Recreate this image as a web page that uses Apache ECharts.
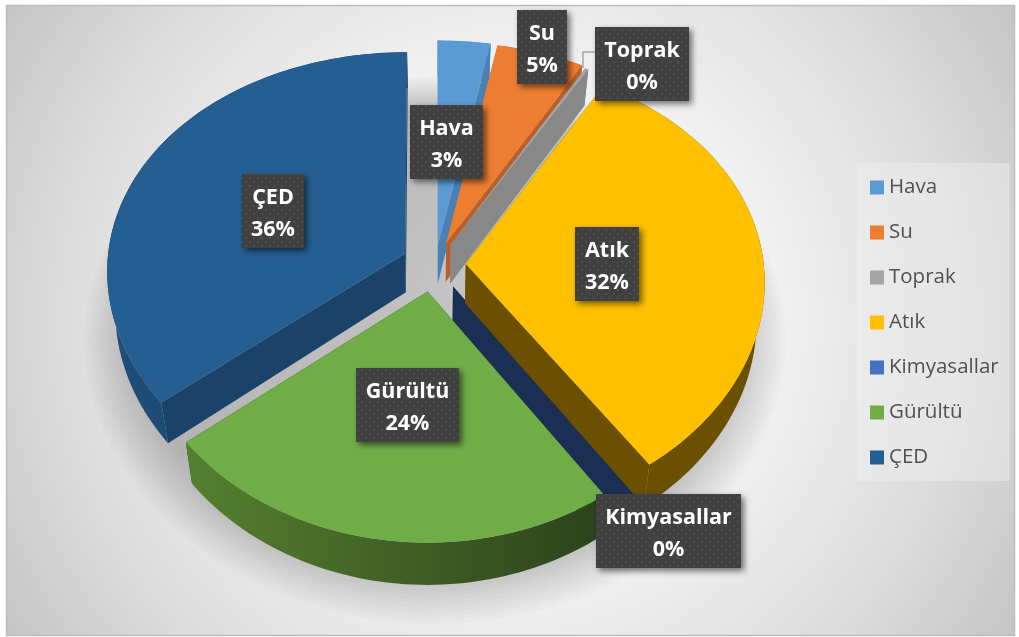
<!DOCTYPE html>
<html><head><meta charset="utf-8">
<style>html,body{margin:0;padding:0;background:#fff}#c{width:1019px;height:637px}</style>
<script src="https://cdn.jsdelivr.net/npm/echarts@6/dist/echarts.min.js"></script>
</head><body><div id="c"></div>
<script>
// Data
const categories = ['Hava','Su','Toprak','Atık','Kimyasallar','Gürültü','ÇED'];
const values = [3.0,5.1,0.2,32.0,0.2,23.7,35.8];

// Styles
const topColors = ['#5B9BD5','#ED7D31','#A5A5A5','#FFC000','#4472C4','#70AD47','#255E91'];
const wallColors = ['#4A80B4','#B9602A','#888888','#6A5000','#1B2E54','#2C441C','#1B4369'];
const outerStart = ['#4A80B4','#B9602A','#888888','#6A5000','#1B2E54','#55802F','#1F4E7A'];
const outerEnd = ['#4A80B4','#B9602A','#888888','#6A5000','#1B2E54','#2B431B','#1A4066'];
const drawOrder = [0,1,2,4,3,5,6];
// Layout only: per-slice fine offsets [dx,dy,radial scale] and label boxes [left, top, width, height]
const sliceTweak = [[0,3,1.03],[1,0,1.01],[1,0,1],[1,1,1],[1,4,1],[-3,5,0.985],[-3,-1,1]];
const labelBoxes = [[410,105,73,74],[517,10,50,74],[595,27,94,74],[575,227,64,74],[596,494,145,74],[356,368,103,74],[242,174,62,74]];

// Projection of the tilted pie plane
const G = {cx:435, cy:264, a:298, b:224, ky:0.104, kx:0.075, shrink:0.025, explode:0.1};
function proj(X,Y,dz,d){
  const dep = d===undefined ? 39+3*Y : d;
  const s = 1/(1-G.ky*Y), sx = 1/(1-G.kx*Y);
  const f = dz ? 1-G.shrink : 1;
  return [G.cx+G.a*X*sx*f, G.cy+G.b*Y*s+dep*dz];
}
const total = values.reduce((p,c)=>p+c,0);
const spans = []; let acc=0;
values.forEach(v=>{const a0=acc/total*Math.PI*2; acc+=v; spans.push([a0,acc/total*Math.PI*2]);});

function sliceShapes(i){
  const [t0,t1]=spans[i], m=(t0+t1)/2, [nx,ny,r]=sliceTweak[i];
  const ex=G.explode*Math.sin(m), ey=-G.explode*Math.cos(m);
  const mv=p=>[p[0]+nx,p[1]+ny];
  const rim=(t,dz)=>mv(proj(r*Math.sin(t)+ex,-r*Math.cos(t)+ey,dz));
  const apex=dz=>mv(proj(ex,ey,dz));
  const n=Math.max(2,Math.ceil((t1-t0)/0.025));
  const topPts=[apex(0)],bot=[],tp=[];
  for(let j=0;j<=n;j++){const t=t0+(t1-t0)*j/n;const p=rim(t,0);topPts.push(p);tp.push(p);bot.push(rim(t,1));}
  const outer=tp.concat(bot.slice().reverse());
  const xs=outer.map(p=>p[0]);
  const grad={type:'linear',x:Math.min(...xs),y:0,x2:Math.max(...xs),y2:0,global:true,
    colorStops:[{offset:0,color:outerStart[i]},{offset:1,color:outerEnd[i]}]};
  const poly=(pts,fill)=>({type:'polygon',shape:{points:pts},style:{fill:fill,stroke:null},silent:true});
  return {type:'group',silent:true,children:[
    poly([apex(0),rim(t0,0),rim(t0,1),apex(1)],wallColors[i]),
    poly([apex(0),rim(t1,0),rim(t1,1),apex(1)],wallColors[i]),
    poly(outer,grad),
    poly(topPts,topColors[i])
  ]};
}

// dotted label fill
const pc=document.createElement('canvas');pc.width=8;pc.height=8;
const cx2=pc.getContext('2d');cx2.fillStyle='#404040';cx2.fillRect(0,0,8,8);
cx2.fillStyle='#4E4E4E';cx2.fillRect(1,1,2,2);cx2.fillRect(5,5,2,2);

function labelShapes(){
  const kids=[{type:'polyline',shape:{points:[[583,68],[583,52],[595,52]]},style:{stroke:'#A6A6A6',lineWidth:1.5,fill:null},silent:true}];
  categories.forEach((c,i)=>{
    const [x,y,w,h]=labelBoxes[i];
    kids.push({type:'rect',shape:{x,y,width:w,height:h},silent:true,
      style:{fill:{image:pc,repeat:'repeat'},shadowBlur:6,shadowOffsetX:3,shadowOffsetY:3,shadowColor:'rgba(0,0,0,0.55)'}});
    kids.push({type:'text',silent:true,style:{x:x+w/2,y:y+h/2+2.5,text:c+'\n'+Math.round(values[i]/total*100)+'%',
      fill:'#fff',font:'bold 21.5px "Open Sans"',lineHeight:32,align:'center',verticalAlign:'middle'}});
  });
  return {type:'group',children:kids,silent:true};
}
function shadowShape(){
  const layers=[];
  for(let l=0;l<14;l++){
    const R=1.02+l*0.014, pts=[];
    for(let j=0;j<180;j++){const t=j/180*Math.PI*2;pts.push(proj(R*Math.sin(t),-R*Math.cos(t),1,52));}
    layers.push({type:'polygon',silent:true,shape:{points:pts},style:{fill:'rgba(0,0,0,0.014)'}});
  }
  return {type:'group',silent:true,children:layers};
}

const series=[
 {type:'custom',coordinateSystem:'none',silent:true,data:[0],renderItem:shadowShape,z:1,animation:false}
];
drawOrder.forEach(i=>series.push({type:'custom',name:categories[i],coordinateSystem:'none',silent:true,
  data:[values[i]],itemStyle:{color:topColors[i]},renderItem:()=>sliceShapes(i),z:2,animation:false}));
series.push({type:'custom',coordinateSystem:'none',silent:true,data:[0],renderItem:labelShapes,z:5,animation:false});

const chart=echarts.init(document.getElementById('c'),null,{renderer:'canvas'});
chart.setOption({
  animation:false,
  backgroundColor:'#fff',
  graphic:[{type:'rect',z:-10,silent:true,shape:{x:6.5,y:5.5,width:1008,height:630},
    style:{stroke:'#BDBDBD',lineWidth:1.5,fill:{type:'radial',x:0.5,y:0.5,r:0.95,
      colorStops:[{offset:0,color:'#ffffff'},{offset:0.45,color:'#f0f0f0'},{offset:0.75,color:'#dcdcdc'},{offset:1,color:'#c4c4c4'}]}}}],
  legend:{orient:'vertical',left:857,top:163,padding:[14,11,13,13],itemWidth:14,itemHeight:14,itemGap:24,
    backgroundColor:'rgba(240,240,240,0.45)',icon:'rect',selectedMode:false,z:3,
    textStyle:{color:'#505050',fontFamily:'"Open Sans"',fontSize:20.5},data:categories},
  series
});
</script></body></html>
